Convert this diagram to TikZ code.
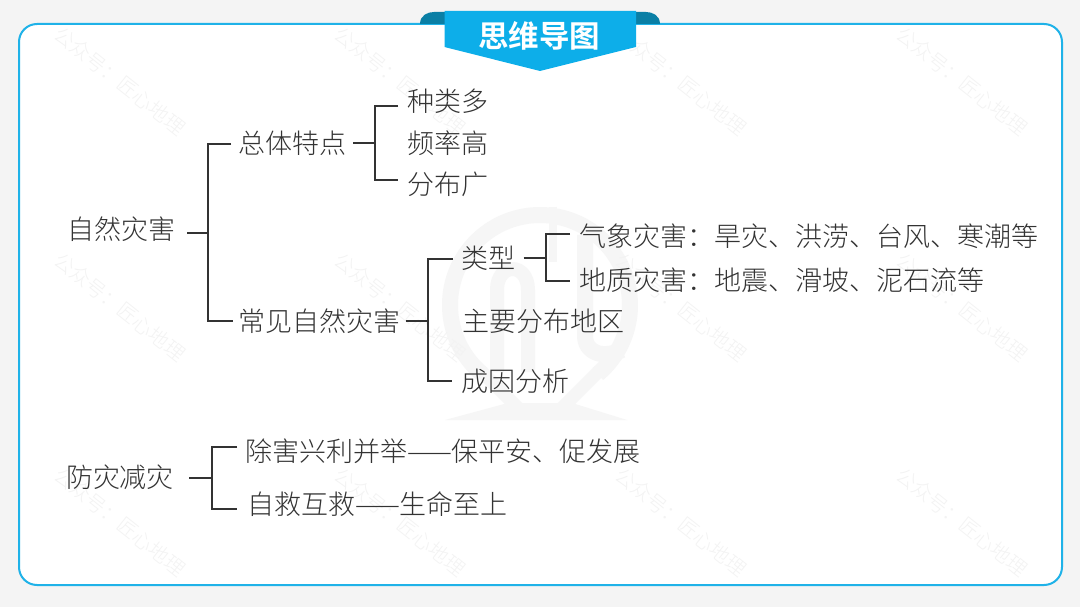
\documentclass[tikz,border=0pt]{standalone}
\usepackage{fontspec}
\setmainfont{Noto Sans CJK SC Light}
\newfontfamily\titlefont{Noto Sans CJK SC Bold}
\newfontfamily\markfont{Noto Sans CJK SC Light}
\definecolor{pagebg}{HTML}{F4F4F4}
\definecolor{frameblue}{HTML}{1FB2E8}
\definecolor{bannerblue}{HTML}{0DAEE9}
\definecolor{eardark}{HTML}{0A7FA5}
\definecolor{ink}{HTML}{333333}
\definecolor{wm}{HTML}{F3F3F3}
\definecolor{logo}{HTML}{F6F6F6}
\tikzset{
  item/.style={anchor=west,inner sep=0pt,outer ysep=0pt,text=ink,font=\fontsize{27}{30}\selectfont},
  link/.style={draw=ink,line width=1.9pt},
  wmtext/.style={text=wm,inner sep=0pt,rotate=-38.5,font=\markfont\fontsize{20}{22}\selectfont},
  emblem/.style={draw=logo,line cap=butt,line join=round}
}
\begin{document}
\begin{tikzpicture}[x=1pt,y=-1pt]
\useasboundingbox (0,0) rectangle (1080,607);
\fill[pagebg] (0,0) rectangle (1080,607);
\draw[frameblue,line width=2pt,fill=white,rounded corners=18pt] (19,24) rectangle (1062,585);
% emblem
\draw[emblem,line width=16pt] ([shift={(130:90)}]540,305) arc (130:410:90);
\draw[emblem,line width=13pt] (482,372) -- (518,408);
\draw[emblem,line width=13pt] (598,372) -- (562,408);
\fill[logo] (445,420) -- (627,420) -- (572,403) -- (508,403) -- cycle;
\draw[emblem,line width=8pt] (553,207) -- (553,262);
\draw[emblem,line width=14pt] (497,372) -- (497,290) .. controls (497,262) and (528,262) .. (528,290) -- (528,372);
\draw[emblem,line width=16pt] (585,235) -- (585,335) .. controls (585,355) and (605,358) .. (622,350);
% watermarks
\foreach \mx in {120,400,681,962}
  \foreach \my in {81,307,522}
    \node[wmtext] (w\mx-\my) at (\mx,\my) {公众号：匠心地理};
% banner
\fill[eardark] (420,24) .. controls (420,15) and (428,12) .. (434,12) -- (446,12) -- (446,24) -- cycle;
\fill[eardark] (660,24) .. controls (660,15) and (652,12) .. (646,12) -- (635,12) -- (635,24) -- cycle;
\fill[bannerblue] (444.5,11) -- (636,11) -- (636,47) -- (540,71) -- (444.5,47) -- cycle;
\node[inner sep=0pt,text=white,font=\titlefont\fontsize{30.5}{34}\selectfont] (title) at (539,36) {思维导图};
% text
\node[item,outer xsep=12pt] (root) at (55,229) {自然灾害};
\node[item,outer xsep=7pt] (general) at (231,143) {总体特点};
\node[item,outer xsep=9pt] (kinds) at (398,101) {种类多};
\node[item,outer xsep=9pt] (freq) at (398,143) {频率高};
\node[item,outer xsep=9pt] (spread) at (398,184) {分布广};
\node[item,outer xsep=5.5pt] (common) at (232.5,321) {常见自然灾害};
\node[item,outer xsep=8.5pt] (types) at (452.5,258) {类型};
\node[item,outer xsep=9pt] (meteo) at (570,236) {气象灾害：旱灾、洪涝、台风、寒潮等};
\node[item,outer xsep=9pt] (geo) at (570,280) {地质灾害：地震、滑坡、泥石流等};
\node[item,outer xsep=9pt] (region) at (453,321) {主要分布地区};
\node[item,outer xsep=9pt] (cause) at (452,381) {成因分析};
\node[item,outer xsep=15pt] (prevent) at (51,477) {防灾减灾};
\node[item,outer xsep=8pt] (benefit) at (237,451) {除害兴利并举——保平安、促发展};
\node[item,outer xsep=10pt] (rescue) at (237,504) {自救互救——生命至上};
% connector levels
\coordinate (j1) at (208,233);
\coordinate (l1a) at (0,144);
\coordinate (l1b) at (0,321);
\coordinate (j2) at (375,143);
\coordinate (l2a) at (0,106);
\coordinate (l2b) at (0,180);
\coordinate (j3) at (428,321);
\coordinate (l3a) at (0,259);
\coordinate (l3b) at (0,381);
\coordinate (j4) at (546,258);
\coordinate (l4a) at (0,234);
\coordinate (l4b) at (0,281);
\coordinate (j5) at (212,478);
\coordinate (l5a) at (0,447);
\coordinate (l5b) at (0,509);
\draw[link] (root.east |- j1) -- (j1);
\draw[link] (general.west |- l1a) -| (j1) |- (common.west |- l1b);
\draw[link] (general.east |- j2) -- (j2);
\draw[link] (kinds.west |- l2a) -| (j2) |- (spread.west |- l2b);
\draw[link] (common.east |- j3) -- (j3);
\draw[link] (types.west |- l3a) -| (j3) |- (cause.west |- l3b);
\draw[link] (types.east |- j4) -- (j4);
\draw[link] (meteo.west |- l4a) -| (j4) |- (geo.west |- l4b);
\draw[link] (prevent.east |- j5) -- (j5);
\draw[link] (benefit.west |- l5a) -| (j5) |- (rescue.west |- l5b);
\end{tikzpicture}
\end{document}
